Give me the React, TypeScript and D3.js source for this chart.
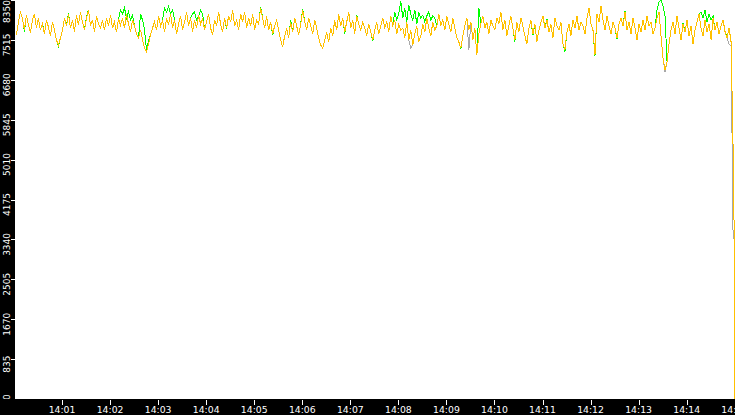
import React from 'react'
import * as d3 from 'd3'

// sampled every 2.5 s from 14:00:03
const SAMPLE_START = new Date(2024, 0, 1, 14, 0, 3)
const SAMPLE_STEP_MS = 2500

const yellowValues = [
  7617, 7890, 8099, 7973, 7722, 8036, 7827, 7659, 7931, 8057, 7764,
  7973, 7722, 7848, 7638, 7931, 7785, 7597, 7890, 7722, 7513, 7408, 7555,
  7722, 7973, 7806, 8057, 7764, 7931, 7680,
  8036, 7827, 8099, 7890, 7722, 7973, 8141, 7806, 7931, 7680, 8015, 7848, 7764,
  7931, 7722, 7973, 7806, 8036, 7764, 7890, 7680, 7952, 7827,
  7973, 7764, 8057, 7848, 7680, 7931, 7806, 7638, 7555, 7722,
  7513, 7345, 7262, 7429, 7617, 7764,
  7890, 7722, 8015, 7806, 7931, 7680, 7973, 7827,
  8057, 7764, 7931, 7638, 7848, 8015, 7722, 7890, 8099, 7806, 7973, 7680, 7931, 7764, 8036, 7848,
  7973, 7722, 7890, 8057, 7764, 7617, 7931, 7806, 8099, 7848, 7680, 7973, 7764, 8015, 7890, 8141, 7806, 7931, 7722, 8057,
  7890, 8099, 7764, 7973, 7806, 8057, 7722, 7931, 7848, 8183, 7973, 7764, 8015, 7722, 7890, 7638, 7806, 7931,
  7722, 7513, 7366, 7597, 7764, 7555, 7890, 7680, 7973, 7806, 7617, 7848,
  8141, 7890, 7722, 7973, 7806, 7638, 7931, 7764, 7555, 7408,
  7345, 7513, 7680, 7471, 7764, 7597,
  7931, 7722, 8057, 7806, 7973, 7680, 7890, 8099, 7764, 7931, 7638, 8015, 7848, 7722, 7890,
  7764, 7597, 7848, 7680, 7513, 7722, 7890, 7638, 7806,
  7973, 7764, 7890, 7680, 8015, 7806, 7931, 7638, 7848, 7722,
  7764, 7555, 7890, 7513, 7722, 7408, 7638, 7806, 7471, 7597,
  7848, 7680, 7973, 7764, 7597, 7890, 7722, 7806,
  8057, 7806, 7931, 7722, 8015, 7848, 7680, 7973, 7764, 7555, 7471, 7345,
  7597, 7806, 7973, 7722, 7890, 7513, 7764, 7199, 7638, 7848,
  8015, 7764, 7890, 7638, 7931, 7806, 7722, 7973,
  7848, 8099, 7722, 7931, 7597, 7806, 8015, 7764, 7513, 7890, 7680, 7973,
  7806, 7597, 7429, 7764, 7931, 7638, 7848, 7471, 7722, 7890,
  8015, 7764, 7931, 7680, 7848, 7555, 7973, 7806, 7722, 7890,
  7429, 7304, 7680, 7848, 7597, 7931, 7764, 8015, 7722, 7890,
  7806, 7638, 7973, 8183, 7848, 7722, 7199, 8057, 7890, 8224,
  7931, 7722, 8015, 7806, 7638, 7890, 7764, 7555, 7848, 7973,
  7806, 8099, 7722, 7890, 7638, 7973, 7764, 7513, 7848, 7680,
  7931, 7722, 8015, 7806, 7890, 7638, 7764, 7973, 8099, 7597,
  7136, 6885, 7052, 7429, 7722, 7890,
  7638, 8015, 7764, 7513, 7848, 7680, 7931, 7597, 7806, 7429, 7722, 7890,
  8057, 7764, 7597, 7931, 7680, 7848, 7513, 7973, 7722, 7890, 7638, 7806,
  7931, 7680, 7555, 7764, 7471,
]

const greenValues = [
  7617, 7890, 8099, 7973, 7690, 8036, 7827, 7659, 7931, 8057, 7764,
  7973, 7722, 7860, 7638, 7931, 7785, 7597, 7890, 7722, 7513, 7380, 7555,
  7722, 7973, 7806, 8078, 7764, 7931, 7680,
  8036, 7827, 8099, 7890, 7722, 8000, 8141, 7806, 7931, 7680, 8015, 7848, 7764,
  7931, 7722, 7973, 7806, 8036, 7764, 7890, 7680, 7952, 8141,
  8057, 8183, 7973, 8099, 7931, 8036, 7806, 7638, 7555, 8057,
  7931, 7722, 7300, 7500, 7617, 7764,
  7890, 7722, 8015, 7806, 7931, 8183, 8099, 8224,
  8057, 8141, 7931, 7638, 7848, 8015, 7722, 7890, 8099, 7806, 7973, 8057, 8099, 7931, 8015, 8141,
  8057, 7722, 7890, 8057, 7764, 7617, 7931, 7806, 8099, 7848, 7680, 7973, 7740, 8015, 7890, 8141, 7806, 7931, 7722, 8057,
  7890, 8099, 7764, 7973, 7806, 8057, 7722, 7931, 7848, 8210, 7973, 7764, 8015, 7722, 7890, 7610, 7806, 7931,
  7722, 7513, 7366, 7597, 7764, 7555, 7920, 7680, 7973, 7806, 7617, 7848,
  8170, 7890, 7722, 7973, 7806, 7638, 7931, 7764, 7555, 7408,
  7345, 7513, 7680, 7471, 7764, 7597,
  7931, 7722, 8057, 7806, 7973, 7650, 7890, 8099, 7764, 7931, 7638, 8040, 7848, 7722, 7890,
  7764, 7597, 7848, 7680, 7490, 7722, 7890, 7638, 7806,
  7973, 7764, 7890, 7680, 8015, 7806, 8099, 7931, 8057, 8329,
  7973, 8183, 7890, 8245, 8057, 7931, 8141, 7848, 8099, 7973,
  8036, 7890, 8015, 8099, 7931, 8015, 7973, 7806,
  8057, 7806, 7931, 7722, 8015, 7848, 7680, 7973, 7764, 7555, 7471, 7320,
  7597, 7806, 7973, 7722, 7890, 7513, 7764, 7199, 8183, 7848,
  8015, 7764, 7890, 7638, 7931, 7806, 7722, 7973,
  7848, 8099, 7722, 7931, 7597, 7806, 8015, 7764, 7480, 7890, 7680, 7973,
  7806, 7597, 7429, 7764, 7931, 7610, 7848, 7471, 7722, 7890,
  8015, 7764, 7960, 7680, 7848, 7555, 7973, 7806, 7722, 7890,
  7429, 7270, 7680, 7848, 7597, 7931, 7764, 8015, 7722, 7890,
  7806, 7638, 7973, 8183, 7848, 7722, 7180, 8057, 7890, 8224,
  7931, 7722, 8015, 7806, 7638, 7890, 7764, 7530, 7848, 7973,
  7806, 8120, 7722, 7890, 7638, 7973, 7764, 7513, 7848, 7680,
  7931, 7722, 8015, 7806, 7890, 7638, 7764, 8141, 8308, 8350,
  8224, 8015, 7052, 7429, 7722, 7890,
  7638, 8015, 7764, 7513, 7870, 7680, 7931, 7597, 7806, 7429, 7722, 7890,
  8057, 8099, 7973, 8141, 7890, 8057, 7931, 8015, 7722, 7890, 7638, 7806,
  7931, 7680, 7580, 7764, 7471,
]

const grayValues = [
  7617, 7890, 8099, 7973, 7722, 8036, 7827, 7659, 7931, 8057, 7764,
  7973, 7722, 7848, 7638, 7931, 7785, 7597, 7890, 7722, 7513, 7408, 7555,
  7722, 7973, 7806, 8057, 7764, 7931, 7680,
  8036, 7827, 8099, 7890, 7722, 7973, 8141, 7806, 7931, 7680, 8015, 7848, 7764,
  7931, 7722, 7973, 7806, 8036, 7764, 7890, 7680, 7952, 7827,
  7973, 7764, 8057, 7848, 7680, 7931, 7806, 7638, 7555, 7722,
  7513, 7345, 7262, 7429, 7617, 7764,
  7890, 7722, 8015, 7806, 7931, 7680, 7973, 7827,
  8057, 7764, 7931, 7638, 7848, 8015, 7722, 7890, 8099, 7806, 7973, 7680, 7931, 7764, 8036, 7848,
  7973, 7722, 7890, 8057, 7764, 7617, 7931, 7806, 8099, 7848, 7680, 7973, 7764, 8015, 7890, 8141, 7806, 7931, 7722, 8057,
  7890, 8099, 7764, 7973, 7806, 8057, 7722, 7931, 7848, 8183, 7973, 7764, 8015, 7722, 7890, 7638, 7806, 7931,
  7722, 7513, 7366, 7597, 7764, 7555, 7890, 7680, 7973, 7806, 7617, 7848,
  8141, 7890, 7722, 7973, 7806, 7638, 7931, 7764, 7555, 7408,
  7345, 7513, 7680, 7471, 7764, 7597,
  7931, 7722, 8057, 7806, 7973, 7680, 7890, 8099, 7764, 7931, 7638, 8015, 7848, 7722, 7890,
  7764, 7597, 7848, 7680, 7513, 7722, 7890, 7638, 7806,
  7973, 7764, 7890, 7680, 8015, 7806, 7931, 7638, 7848, 7722,
  7764, 7555, 7890, 7513, 7350, 7408, 7638, 7806, 7471, 7597,
  7848, 7680, 7973, 7764, 7597, 7890, 7722, 7806,
  8057, 7806, 7931, 7722, 8015, 7848, 7680, 7973, 7764, 7555, 7471, 7345,
  7597, 7806, 7973, 7300, 7890, 7513, 7764, 7199, 7638, 7848,
  8015, 7764, 7890, 7638, 7931, 7806, 7722, 7973,
  7848, 8099, 7722, 7931, 7597, 7806, 8015, 7764, 7513, 7890, 7680, 7973,
  7806, 7597, 7429, 7764, 7931, 7638, 7848, 7471, 7722, 7890,
  8015, 7764, 7931, 7680, 7848, 7555, 7973, 7806, 7722, 7890,
  7429, 7304, 7680, 7848, 7597, 7931, 7764, 8015, 7722, 7890,
  7806, 7638, 7973, 8183, 7848, 7722, 7199, 8057, 7890, 8224,
  7931, 7722, 8015, 7806, 7638, 7890, 7764, 7555, 7848, 7973,
  7806, 8099, 7722, 7890, 7638, 7973, 7764, 7513, 7848, 7680,
  7931, 7722, 8015, 7806, 7890, 7638, 7764, 7973, 8099, 7597,
  7136, 6850, 7052, 7429, 7722, 7890,
  7638, 8015, 7764, 7513, 7848, 7680, 7931, 7597, 7806, 7429, 7722, 7890,
  8057, 7764, 7597, 7931, 7680, 7848, 7513, 7973, 7722, 7890, 7638, 7806,
  7931, 7680, 7555, 7420, 7400,
]

// last samples where the counters fall off
const yellowTailTimes = [new Date(2024, 0, 1, 14, 14, 59), new Date(2024, 0, 1, 14, 15, 0)]
const yellowTailValues = [4350, 0]
const grayTailTimes = [new Date(2024, 0, 1, 14, 14, 58)]
const grayTailValues = [3350]

const yTicks = [0, 835, 1670, 2505, 3340, 4175, 5010, 5845, 6680, 7515, 8350]

const WIDTH = 735
const HEIGHT = 415
const PLOT_LEFT = 15
const PLOT_BOTTOM = 399
const FONT = '"DejaVu Sans", sans-serif'

type Pt = { t: Date; v: number }

function toPoints(values: number[], tailTimes: Date[] = [], tailValues: number[] = []): Pt[] {
  const pts = values.map((v, i) => ({ t: new Date(SAMPLE_START.getTime() + i * SAMPLE_STEP_MS), v }))
  tailTimes.forEach((t, i) => pts.push({ t, v: tailValues[i] }))
  return pts
}

export default function App() {
  const x = d3.scaleTime()
    .domain([new Date(2024, 0, 1, 14, 0, 0), new Date(2024, 0, 1, 14, 15, 0)])
    .range([14, 734.7])
  const y = d3.scaleLinear().domain([0, 8350]).range([PLOT_BOTTOM, 0])

  const line = d3.line<Pt>().x((d) => x(d.t)).y((d) => y(d.v))

  const series = [
    { color: '#a8a8a8', pts: toPoints(grayValues, grayTailTimes, grayTailValues) },
    { color: '#00ff00', pts: toPoints(greenValues) },
    { color: '#ffc000', pts: toPoints(yellowValues, yellowTailTimes, yellowTailValues) },
  ]

  const xTicks = x.ticks(d3.timeMinute.every(1)!).filter((t) => x(t) > PLOT_LEFT)
  const fmt = d3.timeFormat('%H:%M')

  return (
    <svg
      width={WIDTH}
      height={HEIGHT}
      style={{ position: 'fixed', left: 0, top: 0, background: '#fff' }}
    >
      <defs>
        <clipPath id="plot">
          <rect x={PLOT_LEFT} y={0} width={WIDTH - PLOT_LEFT} height={PLOT_BOTTOM} />
        </clipPath>
      </defs>
      <rect x={0} y={0} width={WIDTH} height={HEIGHT} fill="#fff" />
      <g clipPath="url(#plot)">
        {series.map((s, i) => (
          <path
            key={i}
            d={line(s.pts) || ''}
            fill="none"
            stroke={s.color}
            strokeWidth={1}
            shapeRendering="crispEdges"
          />
        ))}
      </g>

      {/* left axis */}
      <rect x={0} y={0} width={PLOT_LEFT} height={HEIGHT} fill="#000" />
      {yTicks.map((v) => {
        const ty = Math.round(y(v)) + 0.5
        const label = String(v)
        const half = label.length * 2.9
        const cy = Math.max(half, Math.min(PLOT_BOTTOM + 1 - half, y(v) + 5))
        return (
          <g key={v}>
            <line x1={11} x2={PLOT_LEFT} y1={ty} y2={ty} stroke="#fff" strokeWidth={1} />
            <text
              transform={`translate(9.5,${cy}) rotate(-90)`}
              textAnchor="middle"
              fill="#fff"
              fontSize={9}
              fontFamily={FONT}
            >
              {label}
            </text>
          </g>
        )
      })}

      {/* bottom axis */}
      <rect x={0} y={PLOT_BOTTOM} width={WIDTH} height={HEIGHT - PLOT_BOTTOM} fill="#000" />
      {xTicks.map((t) => {
        const tx = Math.round(x(t)) + 0.5
        return (
          <g key={t.getTime()}>
            <line x1={tx} x2={tx} y1={PLOT_BOTTOM + 1} y2={PLOT_BOTTOM + 6} stroke="#fff" strokeWidth={1} />
            <text x={x(t)} y={413} textAnchor="middle" fill="#fff" fontSize={9.3} fontFamily={FONT}>
              {fmt(t)}
            </text>
          </g>
        )
      })}
    </svg>
  )
}
